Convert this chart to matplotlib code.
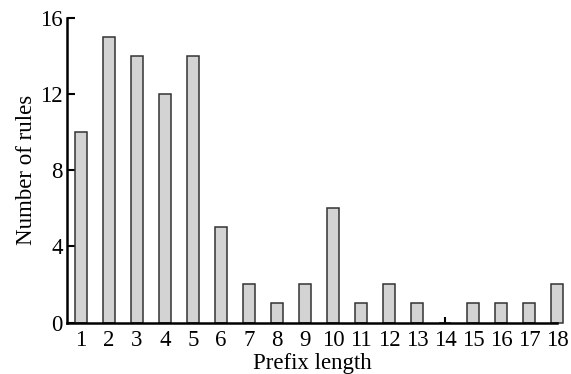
import matplotlib
matplotlib.use("Agg")
import matplotlib.pyplot as plt

prefix_lengths = list(range(1, 19))
rule_counts = [10, 15, 14, 12, 14, 5, 2, 1, 2, 6, 1, 2, 1, 0, 1, 1, 1, 2]
y_ticks = [0, 4, 8, 12, 16]

plt.rcParams["font.family"] = ["Liberation Serif", "DejaVu Serif"]

fig = plt.figure(figsize=(5.71, 3.74), dpi=100)
ax = fig.add_axes([0.1173, 0.1377, 0.8582, 0.8142])

bars = ax.bar(prefix_lengths, rule_counts, width=0.45, color="#d3d3d3",
              edgecolor="#333333", linewidth=1.1, zorder=2)
for b in bars:
    b.set_clip_on(False)

ax.set_xlim(0.5, 18)
ax.set_ylim(0, 16)
ax.set_xticks(prefix_lengths)
ax.set_yticks(y_ticks)

for side in ["top", "right"]:
    ax.spines[side].set_visible(False)
for side in ["left", "bottom"]:
    ax.spines[side].set_linewidth(1.8)
    ax.spines[side].set_zorder(3)

ax.tick_params(axis="x", direction="in", length=4, width=1.5, pad=5.5,
               labelsize=16.5)
ax.tick_params(axis="y", direction="in", length=6, width=1.5, pad=3,
               labelsize=16.5)

ax.set_xlabel("Prefix length", fontsize=16.5, labelpad=1)
ax.set_ylabel("Number of rules", fontsize=16.5, labelpad=2)

fig.savefig("out.png", dpi=100)
